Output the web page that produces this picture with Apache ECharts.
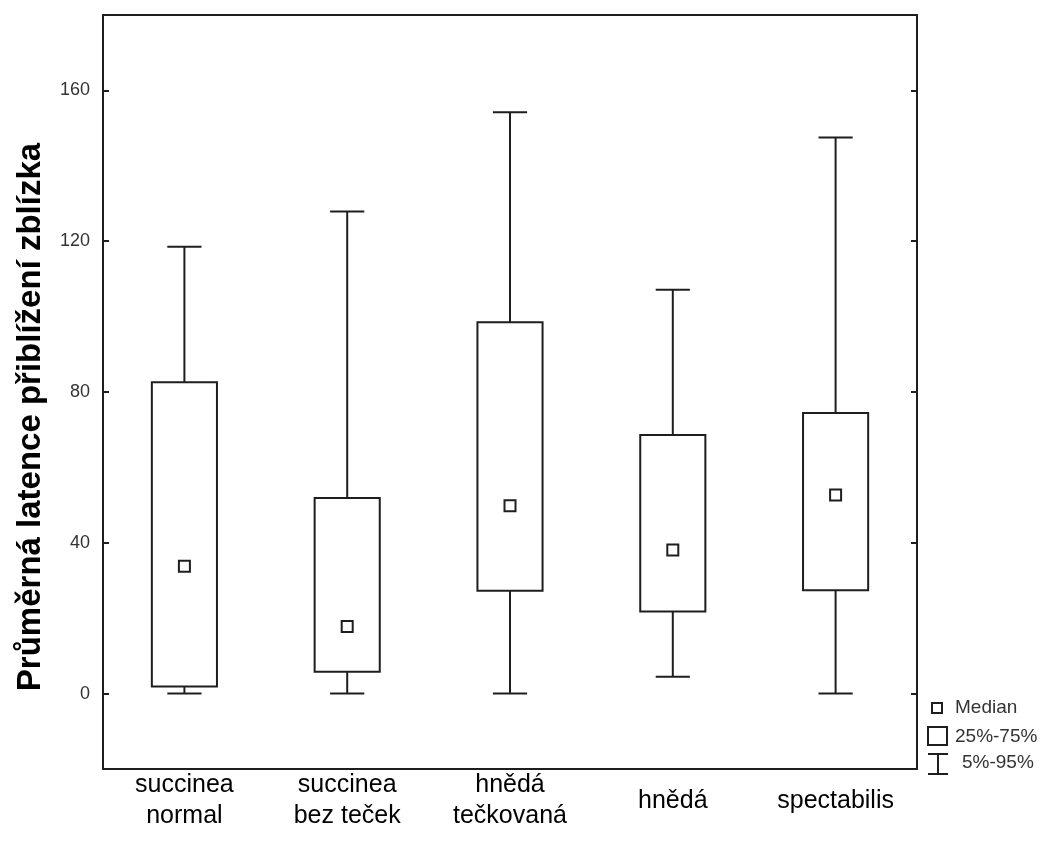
<!DOCTYPE html>
<html>
<head>
<meta charset="utf-8">
<script src="https://cdn.jsdelivr.net/npm/echarts@6/dist/echarts.min.js"></script>
<style>
html,body{margin:0;padding:0;background:#fff;}
#chart{width:1052px;height:845px;}
</style>
</head>
<body>
<div id="chart"></div>
<script>
// Data
var categories = ['succinea\nnormal', 'succinea\nbez teček', 'hnědá\ntečkovaná', 'hnědá', 'spectabilis'];
var p5     = [0,     0,     0,     4.5,   0];
var q25    = [1.9,   5.8,   27.3,  21.8,  27.4];
var median = [33.8,  17.8,  49.8,  38.1,  52.7];
var q75    = [82.6,  51.9,  98.5,  68.6,  74.4];
var p95    = [118.5, 127.9, 154.2, 107.1, 147.5];
var yTicks = [0, 40, 80, 120, 160];
var yTitle = 'Průměrná latence přiblížení zblízka';
var legendLabels = ['Median', '25%-75%', '5%-95%'];

var data = categories.map(function (c, i) {
  return [i, p5[i], q25[i], median[i], q75[i], p95[i]];
});

var LINE = '#1e1e1e';
var LW = 2;

function renderItem(params, api) {
  var idx = api.value(0);
  var pLow = api.coord([idx, api.value(1)]);
  var pQ1 = api.coord([idx, api.value(2)]);
  var pMed = api.coord([idx, api.value(3)]);
  var pQ3 = api.coord([idx, api.value(4)]);
  var pHigh = api.coord([idx, api.value(5)]);
  var band = api.size([1, 0])[0];
  var bw = band * 0.4;
  var cw = band * 0.21;
  var x = pMed[0];
  var st = {stroke: LINE, lineWidth: LW, fill: null};
  var ms = 11;
  return {
    type: 'group',
    children: [
      {type: 'line', shape: {x1: x, y1: pQ3[1], x2: x, y2: pHigh[1]}, style: st},
      {type: 'line', shape: {x1: x - cw / 2, y1: pHigh[1], x2: x + cw / 2, y2: pHigh[1]}, style: st},
      {type: 'line', shape: {x1: x, y1: pQ1[1], x2: x, y2: pLow[1]}, style: st},
      {type: 'line', shape: {x1: x - cw / 2, y1: pLow[1], x2: x + cw / 2, y2: pLow[1]}, style: st},
      {type: 'rect', shape: {x: x - bw / 2, y: pQ3[1], width: bw, height: pQ1[1] - pQ3[1]}, style: {stroke: LINE, lineWidth: LW, fill: '#fff'}},
      {type: 'rect', shape: {x: x - ms / 2, y: pMed[1] - ms / 2, width: ms, height: ms}, style: {stroke: LINE, lineWidth: LW, fill: '#fff'}}
    ]
  };
}

var chart = echarts.init(document.getElementById('chart'), null, {renderer: 'canvas'});
var FONT = 'Liberation Sans, Arial, sans-serif';
var axisLineStyle = {color: LINE, width: LW};

var option = {
  backgroundColor: '#fff',
  animation: false,
  grid: {left: 103, right: 135, top: 15, bottom: 76, containLabel: false},
  xAxis: [{
    type: 'category',
    data: categories,
    position: 'bottom',
    boundaryGap: true,
    axisLine: {onZero: false, lineStyle: axisLineStyle},
    axisTick: {inside: true, length: 6, alignWithLabel: true, lineStyle: axisLineStyle},
    axisLabel: {color: '#000', fontSize: 25, fontFamily: FONT, lineHeight: 31, margin: 32, interval: 0, verticalAlign: 'middle'},
    splitLine: {show: false}
  }, {
    type: 'category',
    data: categories,
    position: 'top',
    boundaryGap: true,
    axisLine: {onZero: false, lineStyle: axisLineStyle},
    axisTick: {inside: true, length: 6, alignWithLabel: true, lineStyle: axisLineStyle},
    axisLabel: {show: false},
    splitLine: {show: false}
  }],
  yAxis: [{
    type: 'value',
    min: -20,
    max: 180,
    position: 'left',
    axisLine: {show: true, onZero: false, lineStyle: axisLineStyle},
    axisTick: {show: true, inside: true, length: 6, customValues: yTicks, lineStyle: axisLineStyle},
    axisLabel: {color: '#333', fontSize: 18, fontFamily: FONT, margin: 13, customValues: yTicks},
    splitLine: {show: false},
    name: yTitle,
    nameLocation: 'middle',
    nameRotate: 90,
    nameGap: 56,
    nameTextStyle: {color: '#000', fontSize: 33, fontWeight: 'bold', fontFamily: FONT, padding: [0, 50, 0, 0]}
  }, {
    type: 'value',
    min: -20,
    max: 180,
    position: 'right',
    axisLine: {show: true, onZero: false, lineStyle: axisLineStyle},
    axisTick: {show: true, inside: true, length: 6, customValues: yTicks, lineStyle: axisLineStyle},
    axisLabel: {show: false},
    splitLine: {show: false}
  }],
  series: [{
    type: 'custom',
    renderItem: renderItem,
    encode: {x: 0, y: [1, 2, 3, 4, 5]},
    data: data,
    clip: false
  }],
  graphic: [
    {type: 'rect', x: 932, y: 703, shape: {width: 10, height: 10}, style: {stroke: LINE, lineWidth: LW, fill: '#fff'}},
    {type: 'text', x: 955, y: 708, style: {text: legendLabels[0], fontSize: 19, fontFamily: FONT, fill: '#333', verticalAlign: 'middle'}},
    {type: 'rect', x: 928, y: 727, shape: {width: 19, height: 18}, style: {stroke: LINE, lineWidth: LW, fill: '#fff'}},
    {type: 'text', x: 955, y: 737, style: {text: legendLabels[1], fontSize: 19, fontFamily: FONT, fill: '#333', verticalAlign: 'middle'}},
    {type: 'group', x: 928, y: 754, children: [
      {type: 'line', shape: {x1: 0, y1: 0, x2: 20, y2: 0}, style: {stroke: LINE, lineWidth: LW}},
      {type: 'line', shape: {x1: 10, y1: 0, x2: 10, y2: 20}, style: {stroke: LINE, lineWidth: LW}},
      {type: 'line', shape: {x1: 0, y1: 20, x2: 20, y2: 20}, style: {stroke: LINE, lineWidth: LW}}
    ]},
    {type: 'text', x: 962, y: 763, style: {text: legendLabels[2], fontSize: 19, fontFamily: FONT, fill: '#333', verticalAlign: 'middle'}}
  ]
};
chart.setOption(option);
</script>
</body>
</html>
